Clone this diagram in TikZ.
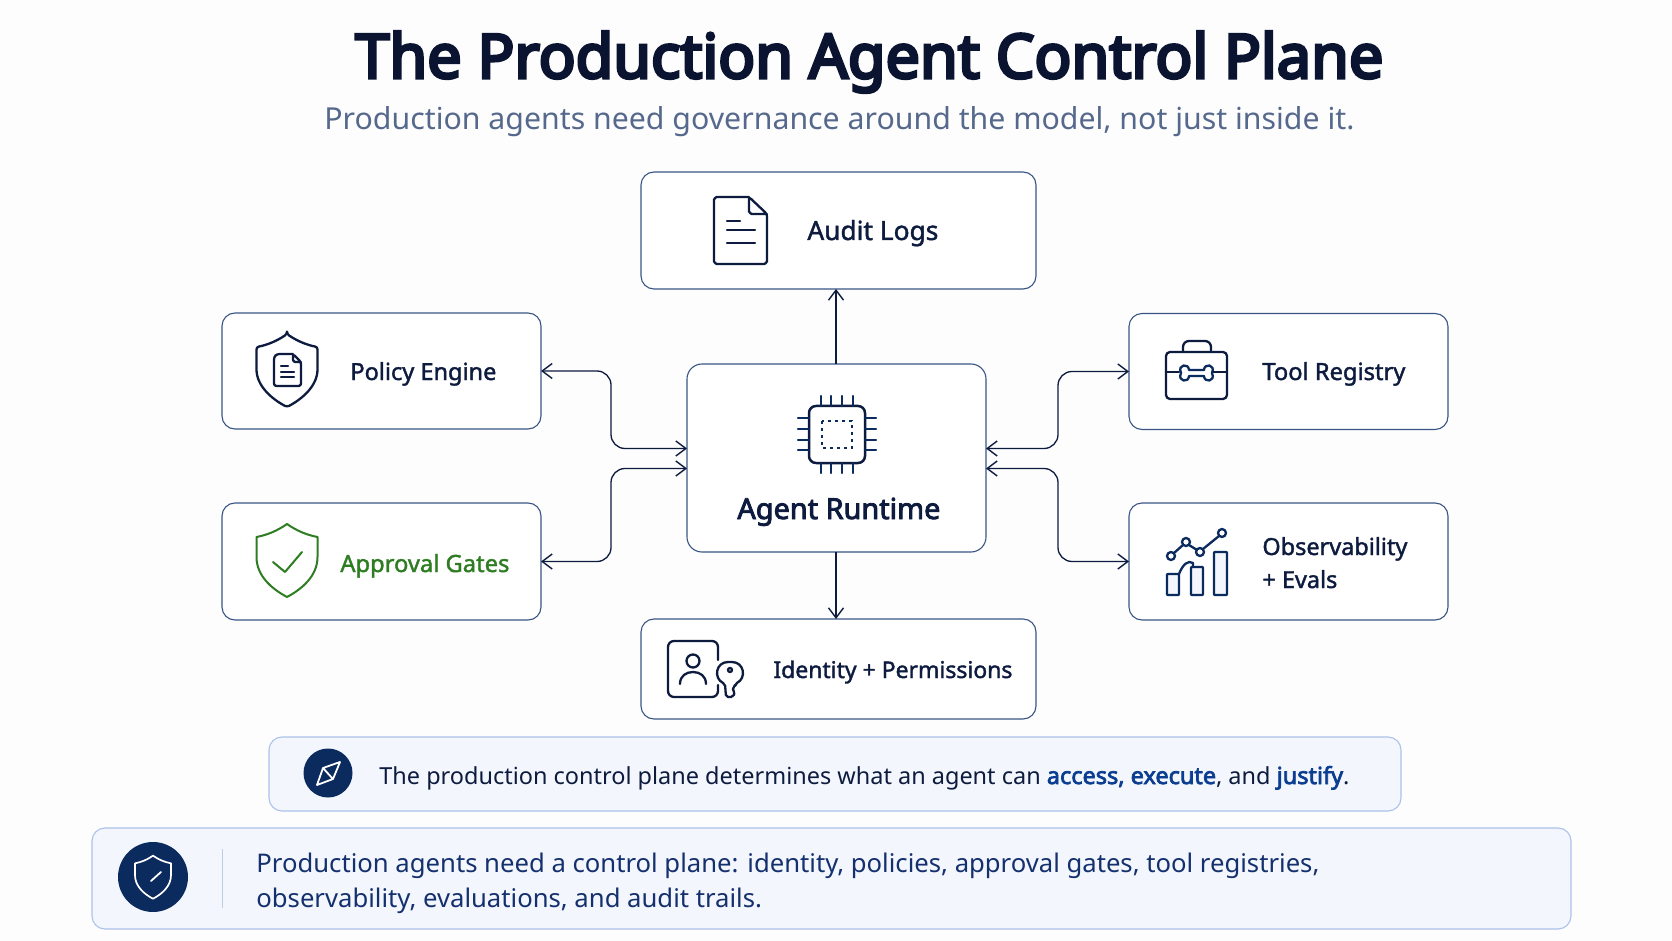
\documentclass[tikz,border=0pt]{standalone}
\usepackage{fontspec}
\usetikzlibrary{arrows.meta,calc}
\setmainfont{Noto Sans}
\newfontfamily\medf[FakeBold=1.6]{Noto Sans}
\newfontfamily\strongf[FakeBold=3]{Noto Sans}
\newfontfamily\regf{Noto Sans}
\newfontfamily\titlef[FakeBold=5]{Noto Sans}
\definecolor{ink}{HTML}{0D1B3E}
\definecolor{titleink}{HTML}{0A1430}
\definecolor{navy}{HTML}{0B2A5E}
\definecolor{edge}{HTML}{3A5585}
\definecolor{subt}{HTML}{56698C}
\definecolor{gate}{HTML}{2E7D22}
\definecolor{stripfill}{HTML}{F3F6FC}
\definecolor{stripedge}{HTML}{ABC3EA}
\definecolor{hl}{HTML}{0B3D91}
\definecolor{strip2ink}{HTML}{14306E}
\definecolor{rule}{HTML}{BFCCE0}
\definecolor{paper}{HTML}{FDFDFE}
% font fitted so that the sample text is #2 px wide; #4 = line skip
\newcommand{\fitfont}[4]{%
  \setbox0=\hbox{#1\fontsize{10pt}{12pt}\selectfont #3}%
  \pgfmathsetmacro\fitsz{10*(#2*0.5)/(\the\wd0)}%
  #1\fontsize{\fitsz pt}{#4}\selectfont}
\tikzset{
  box/.style={draw=edge,line width=0.55pt,fill=white,rounded corners=6.5pt,inner sep=0pt,outer sep=0pt},
  strip/.style={draw=stripedge,line width=0.55pt,fill=stripfill,rounded corners=6.5pt,inner sep=0pt,outer sep=0pt},
  lab/.style={inner sep=0pt,anchor=base west,text=ink,align=left},
  conn/.style={draw=ink,line width=0.65pt,rounded corners=7pt},
  barb/.tip={Straight Barb[length=5pt,width=7.5pt,line width=0.7pt]},
  ico/.style={draw=ink,line width=1.15pt,line join=round,line cap=round,rounded corners=1.2pt},
  icob/.style={draw=navy,line width=1.15pt,line join=round,line cap=round,rounded corners=1.2pt},
}
\newcommand{\shieldshape}{(0,-37) .. controls (-10,-30) and (-20,-26) .. (-30.5,-24) -- (-30.5,-4) .. controls (-30.5,15) and (-15,28) .. (0,36) .. controls (15,28) and (30.5,15) .. (30.5,-4) -- (30.5,-24) .. controls (20,-26) and (10,-30) .. (0,-37) -- cycle}
\begin{document}
\begin{tikzpicture}[x=0.5pt,y=-0.5pt]
\useasboundingbox (0,0) rectangle (1672,941);
\fill[paper] (0,0) rectangle (1672,941);

% title
\node[lab,text=titleink,font={\fitfont{\titlef}{1028}{The Production Agent Control Plane}{40pt}}] (title) at (355,78) {The Production Agent Control Plane};
\node[lab,text=subt,font={\fitfont{\regf}{1030}{Production agents need governance around the model, not just inside it.}{20pt}}] (subtitle) at (324,130) {Production agents need governance around the model, not just inside it.};

% boxes
\node[box,minimum width=197.5pt,minimum height=58.5pt] (audit) at (838.5,230.5) {};
\node[box,minimum width=159.5pt,minimum height=58pt] (policy) at (381.5,371) {};
\node[box,minimum width=159.5pt,minimum height=58.5pt] (gates) at (381.5,561.5) {};
\node[box,minimum width=159.5pt,minimum height=58pt] (tools) at (1288.5,371.5) {};
\node[box,minimum width=159.5pt,minimum height=58.5pt] (obs) at (1288.5,561.5) {};
\node[box,minimum width=149.5pt,minimum height=94pt,rounded corners=7.5pt] (rt) at (836.5,458) {};
\node[box,minimum width=197.5pt,minimum height=50pt] (ident) at (838.5,669) {};

% connector waypoints
\coordinate (cv) at (836,0);
\coordinate (lv) at (611,0);
\coordinate (rv) at (1058,0);
\coordinate (rtLa) at ($(rt.west)+(0,-9.5)$);
\coordinate (rtLb) at ($(rt.west)+(0,10.5)$);
\coordinate (rtRa) at ($(rt.east)+(0,-9.5)$);
\coordinate (rtRb) at ($(rt.east)+(0,10.5)$);

% connectors
\draw[conn,-{barb}] (rt.north -| cv) -- (audit.south -| cv);
\draw[conn,-{barb}] (rt.south -| cv) -- (ident.north -| cv);
\draw[conn,{barb}-{barb}] (policy.east) -- (lv |- policy.east) -- (lv |- rtLa) -- (rtLa);
\draw[conn,{barb}-{barb}] (gates.east) -- (lv |- gates.east) -- (lv |- rtLb) -- (rtLb);
\draw[conn,{barb}-{barb}] (tools.west) -- (rv |- tools.west) -- (rv |- rtRa) -- (rtRa);
\draw[conn,{barb}-{barb}] (obs.west) -- (rv |- obs.west) -- (rv |- rtRb) -- (rtRb);

% labels
\node[lab,font={\fitfont{\medf}{131}{Audit Logs}{16pt}}] (auditl) at (807,240) {Audit Logs};
\node[lab,font={\fitfont{\medf}{146}{Policy Engine}{16pt}}] (policyl) at (350,380) {Policy Engine};
\node[lab,text=gate,font={\fitfont{\medf}{169}{Approval Gates}{16pt}}] (gatesl) at (340,572) {Approval Gates};
\node[lab,font={\fitfont{\medf}{143}{Tool Registry}{16pt}}] (toolsl) at (1262,380) {Tool Registry};
\node[lab,font={\fitfont{\medf}{145}{Observability}{16.5pt}}] (obsl) at (1262,588) {Observability\\+ Evals};
\node[lab,font={\fitfont{\medf}{239}{Identity + Permissions}{16pt}}] (identl) at (773,678) {Identity + Permissions};
\node[lab,font={\fitfont{\strongf}{203}{Agent Runtime}{16pt}}] (rtl) at (737,519) {Agent Runtime};

% audit doc icon
\draw[ico] (749,197) -- (719,197) .. controls (716,197) and (714,199) .. (714,202) -- (714,259) .. controls (714,262) and (716,264) .. (719,264) -- (762,264) .. controls (765,264) and (767,262) .. (767,259) -- (767,214) -- (749,197) -- (749,209) .. controls (749,212) and (751,214) .. (754,214) -- (767,214);
\draw[ico] (727,221) -- (740,221) (727,230) -- (755,230) (727,243) -- (755,243);

% policy shield
\draw[ico] [shift={(287,371)}] \shieldshape;
\draw[ico] (293,354) -- (277,354) -- (274,357) -- (274,386) -- (301,386) -- (301,362) -- (293,354) -- (293,362) -- (301,362);
\draw[ico] (281,366) -- (288,366) (281,372) -- (294,372) (281,377) -- (294,377);

% approval shield
\draw[draw=gate,line width=1pt,line join=round] [shift={(287,561)}] \shieldshape;
\draw[draw=gate,line width=1pt,line cap=round,line join=round] (273,562) -- (285,572) -- (302,552);

% chip
\draw[ico,line width=1.25pt,rounded corners=3.5pt] (809,406) rectangle (865,463);
\foreach \p in {821,831,842,853} {\draw[icob] (\p,396) -- (\p,406) (\p,463) -- (\p,473);}
\foreach \p in {418,429,440,450} {\draw[icob] (798,\p) -- (809,\p) (865,\p) -- (876,\p);}
\draw[draw=navy,line width=1.1pt,dash pattern=on 1.3pt off 2.2pt] (822,421) rectangle (852,448);

% toolbox
\draw[ico,rounded corners=2pt] (1166,352) rectangle (1227,399);
\draw[ico,rounded corners=3pt] (1183,352) -- (1183,341) -- (1211,341) -- (1211,352);
\draw[ico] (1166,372) -- (1179,372) (1213,372) -- (1227,372);
\draw[icob,rounded corners=0pt] (1189,370) -- (1204,370) .. controls (1204,363) and (1216,364) .. (1212,373) .. controls (1216,382) and (1204,383) .. (1204,376) -- (1189,376) .. controls (1189,383) and (1177,382) .. (1181,373) .. controls (1177,364) and (1189,363) .. (1189,370) -- cycle;

% chart
\draw[icob,rounded corners=0.4pt,fill=stripfill] (1167,574) rectangle (1179,595);
\draw[icob,rounded corners=0.4pt,fill=stripfill] (1191,567) rectangle (1203,595);
\draw[icob,rounded corners=0.4pt,fill=stripfill] (1214,552) rectangle (1227,595);
\draw[icob,rounded corners=0pt] (1179,574) .. controls (1183,564) and (1188,560) .. (1193,563) -- (1193,567);
\draw[icob] (1174,553) -- (1183,545) (1189,545) -- (1197,550) (1203,549) -- (1219,536);
\draw[icob] (1171,556) circle[radius=4] (1186,542) circle[radius=4] (1200,552) circle[radius=4] (1222,533) circle[radius=4];

% identity + key
\draw[ico,rounded corners=3pt] (718,660) -- (718,641) -- (668,641) -- (668,697) -- (718,697) -- (718,685);
\draw[ico] (693,661) circle[radius=6.5];
\draw[ico,rounded corners=0pt] (680,684) .. controls (680,676) and (686,672) .. (693,672) .. controls (700,672) and (706,676) .. (706,684);
\draw[ico] (730,670) circle[radius=2];
\draw[ico,rounded corners=1pt] (725,684) .. controls (713,678) and (716,662) .. (730,662) .. controls (744,662) and (747,678) .. (735,684) -- (735,687) -- (732,689) -- (735,692) -- (733,697) -- (726,697) -- cycle;

% strip 1
\node[strip,minimum width=566pt,minimum height=37pt] (s1) at (835,774) {};
\node[circle,fill=navy,minimum size=24.5pt,inner sep=0pt] (s1c) at (328,773) {};
\draw[draw=white,line width=0.9pt,line join=round] (317,785) -- (323,768) -- (340,762) -- (333,779) -- cycle (323,768) -- (333,779);
\node[lab,text=ink,font={\fitfont{\regf}{970}{The production control plane determines what an agent can {\strongf access, execute}, and {\strongf justify}.}{16pt}}] (s1t) at (379,784) {The production control plane determines what an agent can \textcolor{hl}{\strongf access, execute}, and \textcolor{hl}{\strongf justify}.};

% strip 2
\node[strip,minimum width=739.5pt,minimum height=50.5pt] (s2) at (831.5,878.5) {};
\node[circle,fill=navy,minimum size=35pt,inner sep=0pt] (s2c) at (153,877) {};
\draw[draw=white,line width=0.85pt,line join=round] [shift={(153,877.5)},scale=0.59] \shieldshape;
\draw[draw=white,line width=0.9pt,line cap=round] (151,881) -- (161,872);
\coordinate (s2r) at (222,878);
\draw[draw=rule,line width=0.5pt] ($(s2r)+(0,-29)$) -- ($(s2r)+(0,30)$);
\node[lab,text=strip2ink,font={\fitfont{\regf}{1063}{Production agents need a control plane: identity, policies, approval gates, tool registries,}{17.5pt}}] (s2t) at (256,907) {Production agents need a control plane: identity, policies, approval gates, tool registries,\\observability, evaluations, and audit trails.};
\end{tikzpicture}
\end{document}
